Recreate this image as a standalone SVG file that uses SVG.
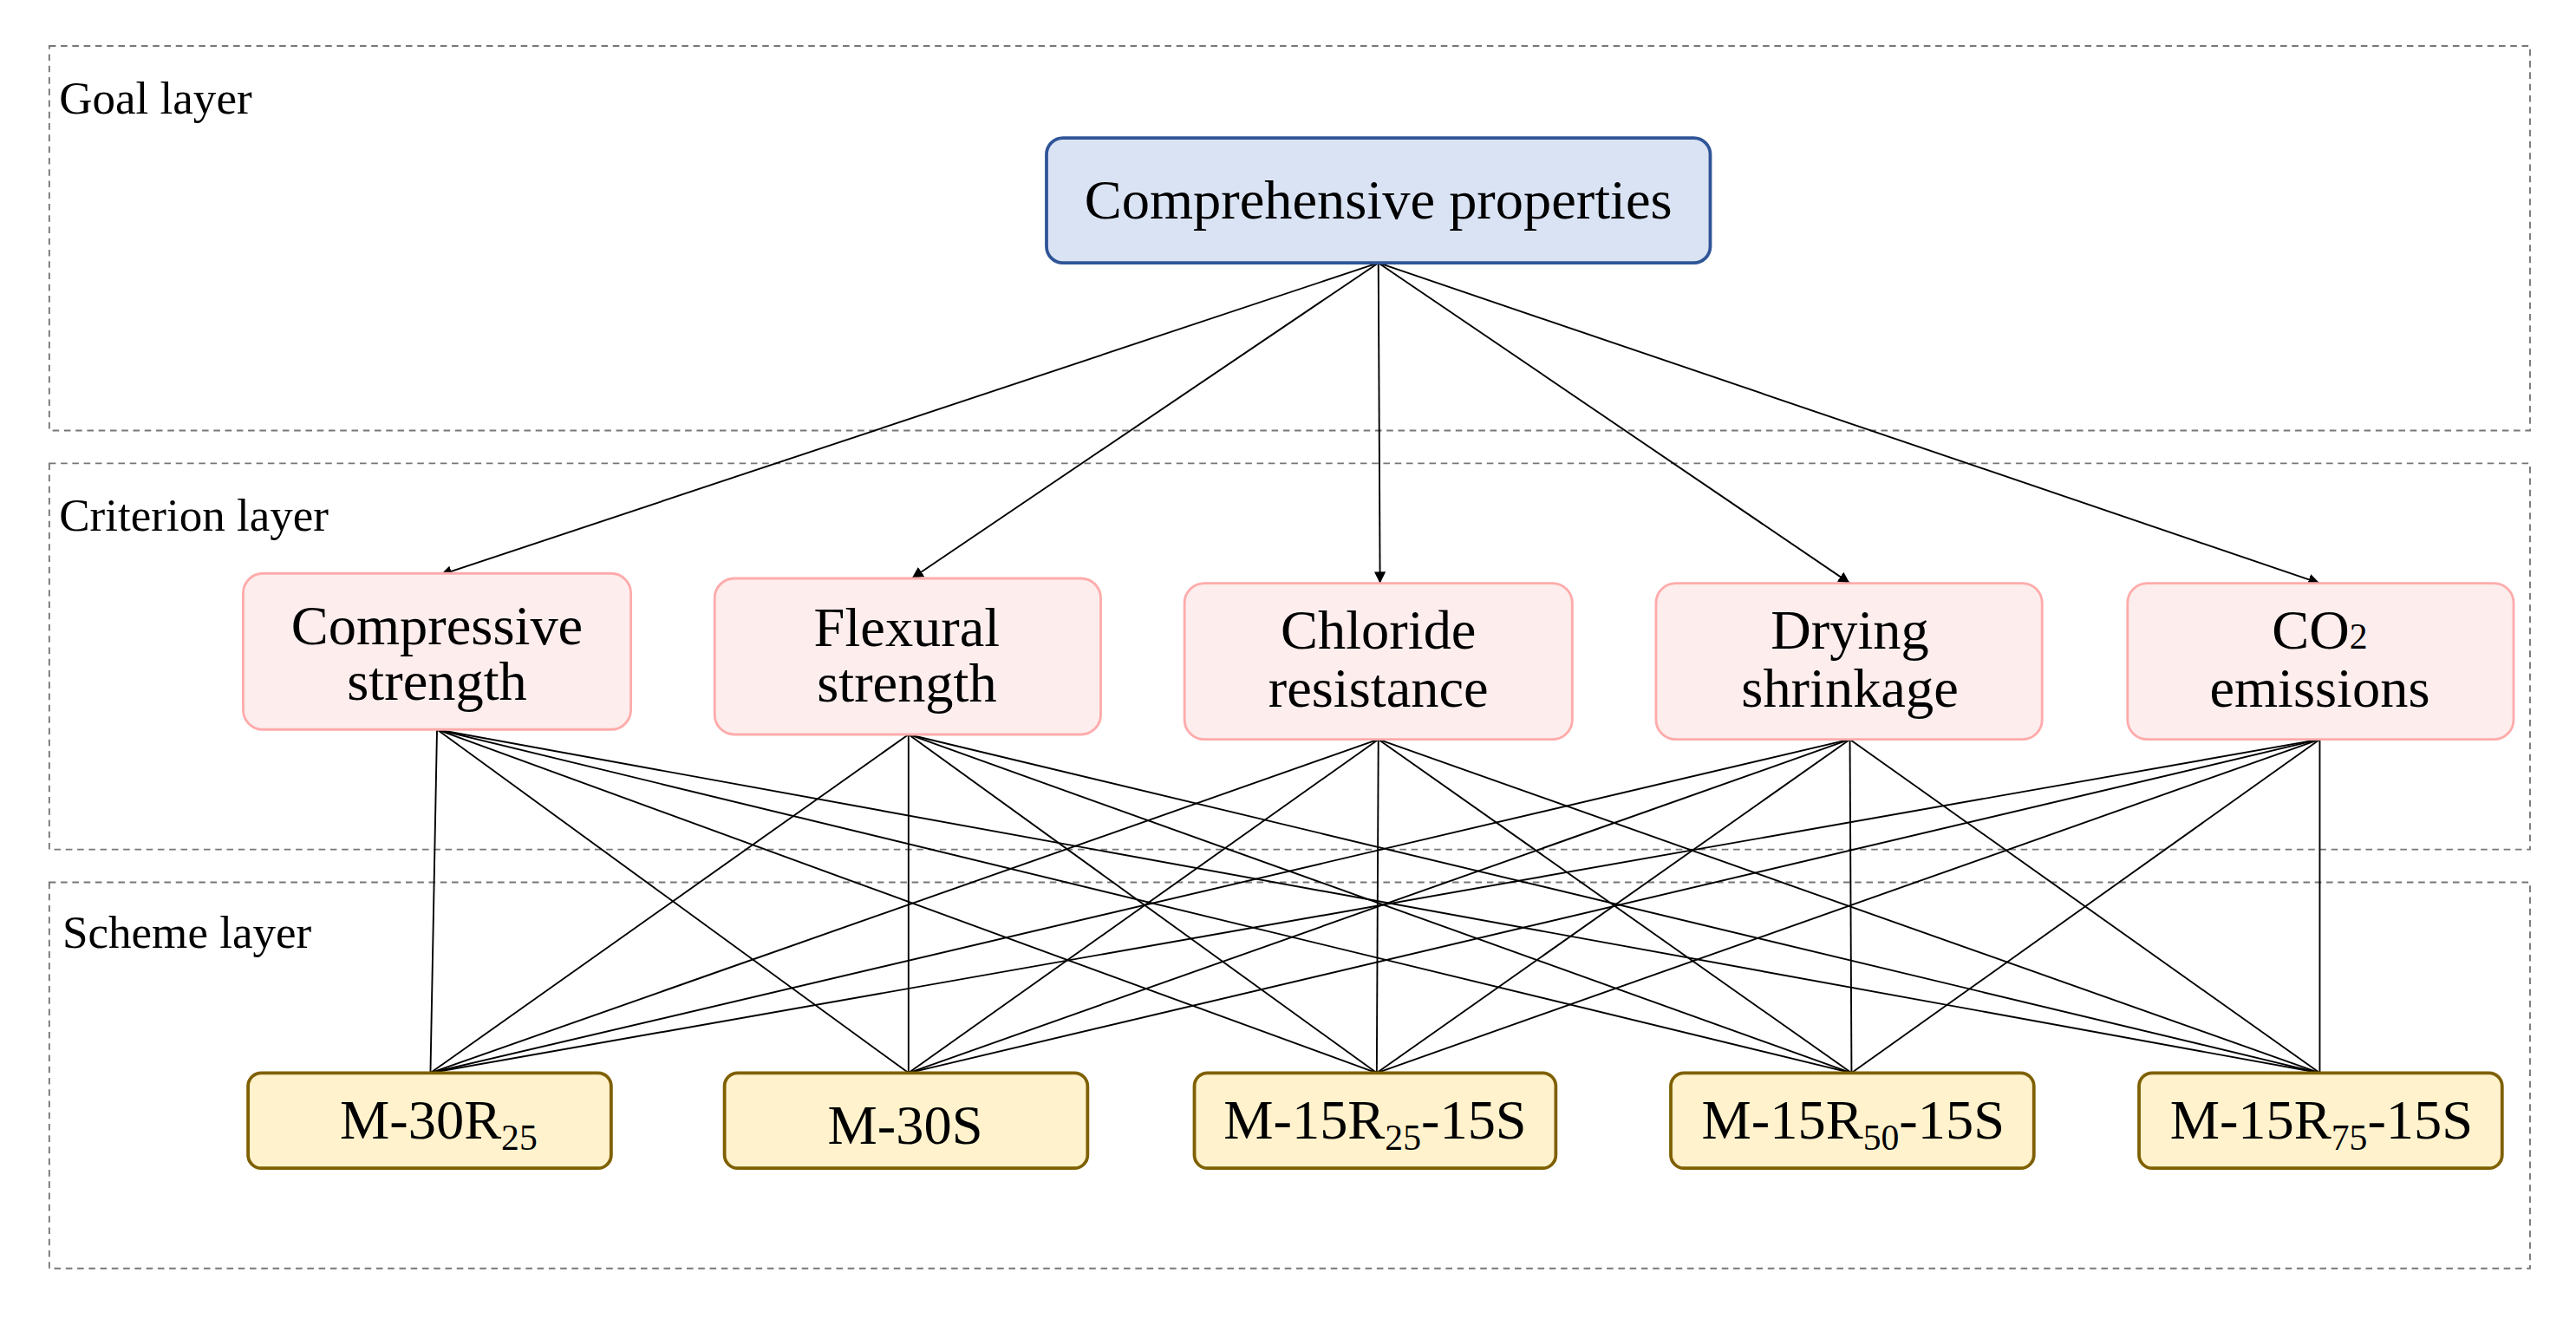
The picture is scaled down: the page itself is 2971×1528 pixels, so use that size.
<svg xmlns="http://www.w3.org/2000/svg" width="2971" height="1528" viewBox="0 0 2971 1528">
<style>
text{font-family:"Liberation Serif","Times New Roman",serif;fill:#000}
.layer{fill:none;stroke:#777;stroke-width:1;stroke-dasharray:4 3}
.lbl{font-size:28px}
.goal rect{fill:#dae3f4;stroke:#2f5597;stroke-width:2}
.crit rect{fill:#fdeded;stroke:#ffabab;stroke-width:1.5}
.sch rect{fill:#fff2cc;stroke:#7f6000;stroke-width:2}
.nt{font-size:34px;text-anchor:middle}
.st{font-size:34px;text-anchor:middle}
.conn line{stroke:#000;stroke-width:1}
.arr line{marker-end:url(#ah)}
</style>
<defs><marker id="ah" viewBox="0 0 10 10" refX="10" refY="5" markerWidth="7" markerHeight="7" markerUnits="userSpaceOnUse" orient="auto"><path d="M0,0L10,5L0,10z" fill="#000" transform="scale(1)"/></marker>
<marker id="ah2" viewBox="0 0 10 10" refX="10" refY="5" markerWidth="12" markerHeight="10" orient="auto" markerUnits="userSpaceOnUse"><path d="M0,0L10,5L0,10z" fill="#000"/></marker></defs>
<rect width="2971" height="1528" fill="#fff"/>
<g transform="scale(1.8948)">
<g id="layers">
<rect class="layer" x="30" y="28" width="1510" height="234"/>
<rect class="layer" x="30" y="282" width="1510" height="235"/>
<rect class="layer" x="30" y="537" width="1510" height="235"/>
<text class="lbl" x="36" y="69">Goal layer</text>
<text class="lbl" x="36" y="323">Criterion layer</text>
<text class="lbl" x="38" y="577">Scheme layer</text>
</g>
<g id="connectors" class="conn">
<g class="arr" style="marker-end:url(#ah2)">
<line x1="839" y1="160" x2="268" y2="350" marker-end="url(#ah2)"/>
<line x1="839" y1="160" x2="555" y2="352" marker-end="url(#ah2)"/>
<line x1="839" y1="160" x2="840" y2="355" marker-end="url(#ah2)"/>
<line x1="839" y1="160" x2="1126" y2="355" marker-end="url(#ah2)"/>
<line x1="839" y1="160" x2="1412" y2="355" marker-end="url(#ah2)"/>
</g>
<g id="mesh">
<line x1="266" y1="444" x2="262" y2="653"/><line x1="266" y1="444" x2="553" y2="653"/><line x1="266" y1="444" x2="838" y2="653"/><line x1="266" y1="444" x2="1127" y2="653"/><line x1="266" y1="444" x2="1412" y2="653"/>
<line x1="553" y1="447" x2="262" y2="653"/><line x1="553" y1="447" x2="553" y2="653"/><line x1="553" y1="447" x2="838" y2="653"/><line x1="553" y1="447" x2="1127" y2="653"/><line x1="553" y1="447" x2="1412" y2="653"/>
<line x1="839" y1="450" x2="262" y2="653"/><line x1="839" y1="450" x2="553" y2="653"/><line x1="839" y1="450" x2="838" y2="653"/><line x1="839" y1="450" x2="1127" y2="653"/><line x1="839" y1="450" x2="1412" y2="653"/>
<line x1="1126" y1="450" x2="262" y2="653"/><line x1="1126" y1="450" x2="553" y2="653"/><line x1="1126" y1="450" x2="838" y2="653"/><line x1="1126" y1="450" x2="1127" y2="653"/><line x1="1126" y1="450" x2="1412" y2="653"/>
<line x1="1412" y1="450" x2="262" y2="653"/><line x1="1412" y1="450" x2="553" y2="653"/><line x1="1412" y1="450" x2="838" y2="653"/><line x1="1412" y1="450" x2="1127" y2="653"/><line x1="1412" y1="450" x2="1412" y2="653"/>
</g>
</g>
<g id="goal" class="goal"><rect x="637" y="84" width="404" height="76" rx="10"/><text class="nt" x="839" y="133">Comprehensive properties</text></g>
<g id="c1" class="crit"><rect x="148" y="349" width="236" height="95" rx="12"/><text class="nt" x="266" y="392">Compressive</text><text class="nt" x="266" y="426">strength</text></g>
<g id="c2" class="crit"><rect x="435" y="352" width="235" height="95" rx="12"/><text class="nt" x="552" y="393">Flexural</text><text class="nt" x="552" y="427">strength</text></g>
<g id="c3" class="crit"><rect x="721" y="355" width="236" height="95" rx="12"/><text class="nt" x="839" y="395">Chloride</text><text class="nt" x="839" y="430">resistance</text></g>
<g id="c4" class="crit"><rect x="1008" y="355" width="235" height="95" rx="12"/><text class="nt" x="1126" y="395">Drying</text><text class="nt" x="1126" y="430">shrinkage</text></g>
<g id="c5" class="crit"><rect x="1295" y="355" width="235" height="95" rx="12"/><text class="nt" x="1412" y="395">CO<tspan font-size="22">2</tspan></text><text class="nt" x="1412" y="430">emissions</text></g>
<g id="s1" class="sch"><rect x="151" y="653" width="221" height="58" rx="8"/><text class="st" x="267" y="693">M-30R<tspan font-size="22" dy="7">25</tspan></text></g>
<g id="s2" class="sch"><rect x="441" y="653" width="221" height="58" rx="8"/><text class="st" x="551" y="696">M-30S</text></g>
<g id="s3" class="sch"><rect x="727" y="653" width="220" height="58" rx="8"/><text class="st" x="837" y="693">M-15R<tspan font-size="22" dy="7">25</tspan><tspan dy="-7">-15S</tspan></text></g>
<g id="s4" class="sch"><rect x="1017" y="653" width="221" height="58" rx="8"/><text class="st" x="1128" y="693">M-15R<tspan font-size="22" dy="7">50</tspan><tspan dy="-7">-15S</tspan></text></g>
<g id="s5" class="sch"><rect x="1302" y="653" width="221" height="58" rx="8"/><text class="st" x="1413" y="693">M-15R<tspan font-size="22" dy="7">75</tspan><tspan dy="-7">-15S</tspan></text></g>
</g>
</svg>
